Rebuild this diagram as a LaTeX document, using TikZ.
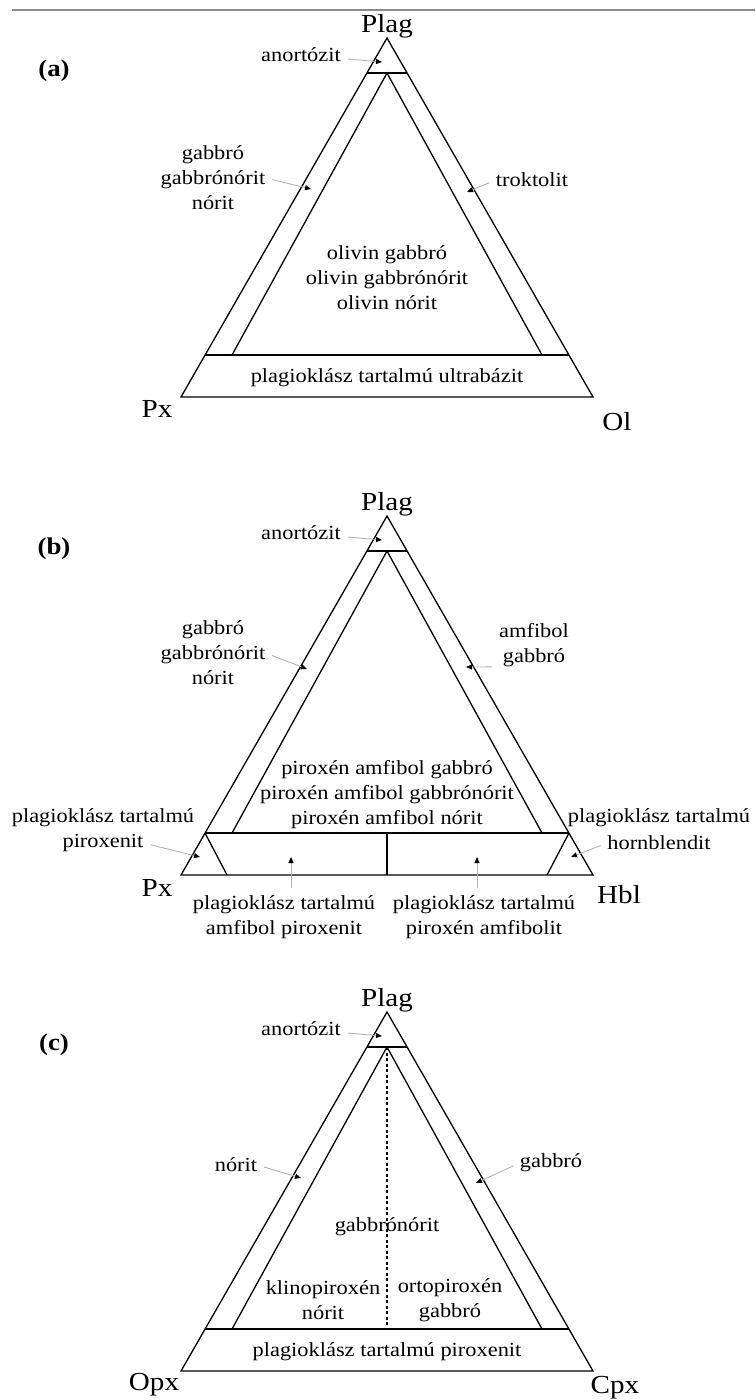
\documentclass[tikz,border=0pt]{standalone}
\usepackage{fontspec}
\setmainfont{Liberation Serif}[FakeStretch=1.12]
\usetikzlibrary{arrows.meta}

\begin{document}
\begin{tikzpicture}[
  x=1pt, y=-1pt,
  rock/.style ={font=\fontsize{20}{25}\selectfont, align=center, inner sep=0pt},
  pole/.style ={font=\fontsize{26}{30}\selectfont, inner sep=0pt},
  tag/.style  ={font=\bfseries\fontsize{24}{28}\selectfont, inner sep=0pt},
  edge/.style ={line width=1.3pt, line join=miter},
  lead/.style ={draw=black!30, line width=0.9pt, shorten <=7pt,
                -{Triangle[length=6pt, width=5pt, color=black]}},
  split/.style={line width=1.1pt, dash pattern=on 3pt off 2.5pt},
]
\useasboundingbox (0,0) rectangle (755,1400);

% rule across the top of the page
\coordinate (ruleL) at (12,10);
\coordinate (ruleR) at (755,10);
\draw[black!45, line width=2pt] (ruleL) -- (ruleR);

% ---------------- frame shared by the three diagrams ----------------
\foreach \p/\dy in {a/38, b/516, c/1012} {
  \begin{scope}[shift={(387,\dy)}]
    \coordinate (\p T)  at (0,0);
    \coordinate (\p L)  at (-206,359);
    \coordinate (\p R)  at (206,359);
    \coordinate (\p I)  at (0,35);
    \coordinate (\p AL) at (-20,35);
    \coordinate (\p AR) at (20,35);
    \coordinate (\p HL) at (-182,317);
    \coordinate (\p HR) at (182,317);
    \coordinate (\p IL) at (-155,317);
    \coordinate (\p IR) at (155,317);
    \draw[edge] (\p T) -- (\p L) -- (\p R) -- cycle;
    \draw[edge] (\p AL) -- (\p AR);
    \draw[edge] (\p HL) -- (\p HR);
    \draw[edge] (\p IL) -- (\p I) -- (\p IR);

    \node[tag] (\p-tag) at (-333,33) {(\p)};
    \node[pole, anchor=base] (\p-plag) at (0,-6) {Plag};
    \coordinate (\p-anom) at (-5,24);
    \node[rock] (\p-ano) at (-86,17) {anortózit};
    \draw[lead] (\p-ano) -- (\p-anom);
  \end{scope}
}

% ---------------- (a) Plag - Px - Ol ----------------
\begin{scope}[shift={(387,38)}]
  \node[rock] (a-gab) at (-174,140) {gabbró\\gabbrónórit\\nórit};
  \coordinate (a-gabm) at (-76,151);
  \draw[lead] (a-gab.east) -- (a-gabm);
  \node[rock] (a-tro) at (145,142) {troktolit};
  \coordinate (a-trom) at (80,154);
  \draw[lead] (a-tro.west) -- (a-trom);
  \node[rock] (a-olg) at (0,240) {olivin gabbró\\olivin gabbrónórit\\olivin nórit};
  \node[rock] (a-ub) at (0,340) {plagioklász tartalmú ultrabázit};
  \node[pole] (a-px) at (-230,371) {Px};
  \node[pole] (a-ol) at (230,384) {Ol};
\end{scope}

% ---------------- (b) Plag - Px - Hbl ----------------
\begin{scope}[shift={(387,516)}]
  \coordinate (b-ls) at (-160,359);
  \coordinate (b-rs) at (160,359);
  \coordinate (b-mt) at (0,317);
  \coordinate (b-mb) at (0,359);
  \draw[edge] (bHL) -- (b-ls);
  \draw[edge] (bHR) -- (b-rs);
  \draw[edge] (b-mt) -- (b-mb);

  \node[rock] (b-gab) at (-174,137) {gabbró\\gabbrónórit\\nórit};
  \coordinate (b-gabm) at (-80,153);
  \draw[lead] (b-gab.east) -- (b-gabm);
  \node[rock] (b-amf) at (147,129) {amfibol\\gabbró};
  \coordinate (b-amfm) at (79,151);
  \draw[lead] (b-amf.south west) -- (b-amfm);
  \node[rock] (b-pag) at (0,279) {piroxén amfibol gabbró\\piroxén amfibol gabbrónórit\\piroxén amfibol nórit};

  \node[rock] (b-pxl1) at (-284,302) {plagioklász tartalmú};
  \node[rock] (b-pxl2) at (-284,327) {piroxenit};
  \coordinate (b-pxlm) at (-187,341);
  \draw[lead] (b-pxl2.east) -- (b-pxlm);
  \node[rock] (b-hbl1) at (272,302) {plagioklász tartalmú};
  \node[rock] (b-hbl2) at (272,327) {hornblendit};
  \coordinate (b-hblm) at (184,341);
  \draw[lead] (b-hbl2.west) -- (b-hblm);

  \node[rock] (b-apx) at (-103,401) {plagioklász tartalmú\\amfibol piroxenit};
  \coordinate (b-apxm) at (-96,341);
  \draw[lead] (b-apx.north -| b-apxm) -- (b-apxm);
  \node[rock] (b-pam) at (97,401) {plagioklász tartalmú\\piroxén amfibolit};
  \coordinate (b-pamm) at (90,341);
  \draw[lead] (b-pam.north -| b-pamm) -- (b-pamm);

  \node[pole] (b-px) at (-230,372) {Px};
  \node[pole] (b-hbl) at (232,379) {Hbl};
\end{scope}

% ---------------- (c) Plag - Opx - Cpx ----------------
\begin{scope}[shift={(387,1012)}]
  \coordinate (c-mid) at (0,317);
  \draw[split] (cI) -- (c-mid);

  \node[rock] (c-nor) at (-151,153) {nórit};
  \coordinate (c-norm) at (-86,166);
  \draw[lead] (c-nor.east) -- (c-norm);
  \node[rock] (c-gab) at (164,151) {gabbró};
  \coordinate (c-gabm) at (89,171);
  \draw[lead] (c-gab.west) -- (c-gabm);

  \node[rock] (c-gn) at (0,215) {gabbrónórit};
  \node[rock] (c-klino) at (-64,288) {klinopiroxén\\nórit};
  \node[rock] (c-orto) at (63,288) {ortopiroxén\\gabbró};
  \node[rock] (c-ppx) at (0,340) {plagioklász tartalmú piroxenit};

  \node[pole] (c-opx) at (-233,373) {Opx};
  \node[pole] (c-cpx) at (228,376) {Cpx};
\end{scope}

\end{tikzpicture}
\end{document}
